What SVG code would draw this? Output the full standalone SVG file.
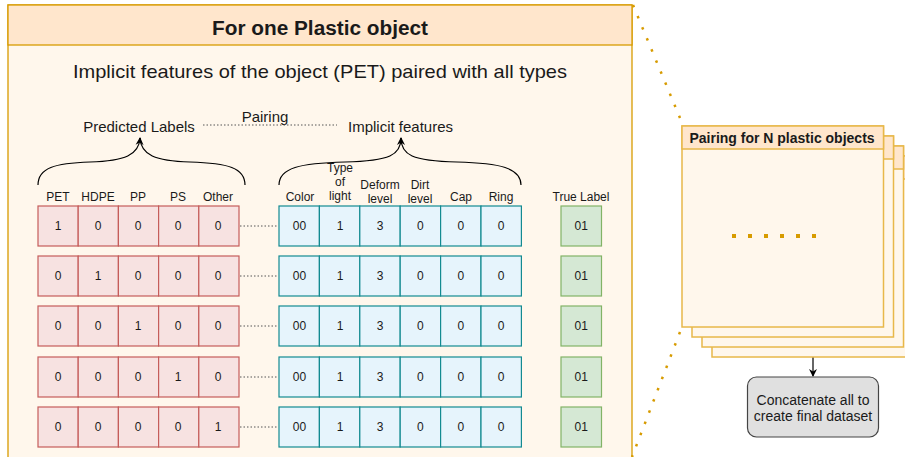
<svg xmlns="http://www.w3.org/2000/svg" width="905" height="457" viewBox="0 0 905 457">
<defs>
<marker id="arr" markerWidth="10" markerHeight="10" refX="8" refY="5" orient="auto" markerUnits="userSpaceOnUse">
<path d="M1,1 L9,5 L1,9 L3.5,5 Z" fill="#000"/>
</marker>
</defs>
<style>
text{font-family:"Liberation Sans",Arial,sans-serif;fill:#1a1a1a}
.c{text-anchor:middle}
.red{fill:#f7e2e1;stroke:#c55d5a;stroke-width:1.2}
.blue{fill:#e6f4fc;stroke:#138a91;stroke-width:1.2}
.green{fill:#d5e8d4;stroke:#82b366;stroke-width:1.2}
.cell{font-size:12px;text-anchor:middle}
.lab{font-size:12px;text-anchor:middle}
.dot{stroke:#555;stroke-width:1;stroke-dasharray:1.5 2;fill:none}
.odot{stroke:#d79b00;stroke-width:2.5;stroke-dasharray:2.5 9.5;fill:none}
.brace{fill:none;stroke:#000;stroke-width:1.2}
.stk{fill:#fff7ec;stroke:#e8b84a;stroke-width:1.5}
.stkh{fill:#ffe6cc;stroke:#e8b84a;stroke-width:1.5}
</style>

<g id="main-panel">
<rect x="8" y="5" width="624" height="460" fill="#fff7ec" stroke="#d79b00" stroke-width="1.3"/>
<rect x="8" y="5" width="624" height="40" fill="#ffe6cc" stroke="#d79b00" stroke-width="1.3"/>
<text x="320" y="35" class="c" font-size="20" font-weight="bold" textLength="216" lengthAdjust="spacingAndGlyphs">For one Plastic object</text>
<text x="320" y="78" class="c" font-size="19" textLength="494" lengthAdjust="spacingAndGlyphs">Implicit features of the object (PET) paired with all types</text>
</g>

<g id="headers">
<text x="139" y="132" class="c" font-size="15">Predicted Labels</text>
<text x="400.5" y="132" class="c" font-size="15">Implicit features</text>
<text x="265" y="122" class="c" font-size="15">Pairing</text>
<text x="58" y="201" class="lab">PET</text>
<text x="98" y="201" class="lab">HDPE</text>
<text x="138" y="201" class="lab">PP</text>
<text x="178" y="201" class="lab">PS</text>
<text x="218" y="201" class="lab">Other</text>
<text x="300" y="201" class="lab">Color</text>
<text x="340" y="172" class="lab">Type</text>
<text x="340" y="186" class="lab">of</text>
<text x="340" y="200" class="lab">light</text>
<text x="380" y="189" class="lab">Deform</text>
<text x="380" y="203" class="lab">level</text>
<text x="420" y="189" class="lab">Dirt</text>
<text x="420" y="203" class="lab">level</text>
<text x="461" y="201" class="lab">Cap</text>
<text x="501" y="201" class="lab">Ring</text>
<text x="581" y="201" class="lab">True Label</text>
</g>

<g id="connectors">
<path class="dot" d="M203,125 L337,125"/>
<path class="brace" d="M38,185 C38,168 55,163 90,162 C125,161 139,155 140,138" marker-end="url(#arr)"/>
<path class="brace" d="M245,185 C245,168 228,163 190,162 C155,161 141,155 140,138"/>
<path class="brace" d="M279,185 C279,168 300,163 345,162 C390,161 401,155 401,138" marker-end="url(#arr)"/>
<path class="brace" d="M521,185 C521,168 500,163 457,162 C412,161 401,155 401,138"/>
<path class="dot" d="M240,226 L278,226"/>
<path class="dot" d="M240,276 L278,276"/>
<path class="dot" d="M240,326 L278,326"/>
<path class="dot" d="M240,377 L278,377"/>
<path class="dot" d="M240,427 L278,427"/>
<path class="odot" d="M633,5 L680,118"/>
<path class="odot" d="M680,332 L632,457"/>
<path d="M813,357 L813,376" stroke="#000" stroke-width="1.2" fill="none" marker-end="url(#arr)"/>
</g>

<g id="row1">
<rect class="red" x="38" y="206" width="40.2" height="40"/><rect class="red" x="78.2" y="206" width="40.2" height="40"/><rect class="red" x="118.4" y="206" width="40.2" height="40"/><rect class="red" x="158.6" y="206" width="40.2" height="40"/><rect class="red" x="198.8" y="206" width="40.2" height="40"/>
<text class="cell" x="58" y="230">1</text><text class="cell" x="98" y="230">0</text><text class="cell" x="138" y="230">0</text><text class="cell" x="178" y="230">0</text><text class="cell" x="218" y="230">0</text>
<rect class="blue" x="279" y="206" width="40.4" height="40"/><rect class="blue" x="319.4" y="206" width="40.4" height="40"/><rect class="blue" x="359.8" y="206" width="40.4" height="40"/><rect class="blue" x="400.2" y="206" width="40.4" height="40"/><rect class="blue" x="440.6" y="206" width="40.4" height="40"/><rect class="blue" x="481" y="206" width="40.4" height="40"/>
<text class="cell" x="299.5" y="230">00</text><text class="cell" x="340" y="230">1</text><text class="cell" x="380" y="230">3</text><text class="cell" x="420.4" y="230">0</text><text class="cell" x="460.8" y="230">0</text><text class="cell" x="501.2" y="230">0</text>
<rect class="green" x="561" y="206" width="40.5" height="40"/><text class="cell" x="581.3" y="230">01</text>
</g>

<g id="row2">
<rect class="red" x="38" y="256" width="40.2" height="40"/><rect class="red" x="78.2" y="256" width="40.2" height="40"/><rect class="red" x="118.4" y="256" width="40.2" height="40"/><rect class="red" x="158.6" y="256" width="40.2" height="40"/><rect class="red" x="198.8" y="256" width="40.2" height="40"/>
<text class="cell" x="58" y="280">0</text><text class="cell" x="98" y="280">1</text><text class="cell" x="138" y="280">0</text><text class="cell" x="178" y="280">0</text><text class="cell" x="218" y="280">0</text>
<rect class="blue" x="279" y="256" width="40.4" height="40"/><rect class="blue" x="319.4" y="256" width="40.4" height="40"/><rect class="blue" x="359.8" y="256" width="40.4" height="40"/><rect class="blue" x="400.2" y="256" width="40.4" height="40"/><rect class="blue" x="440.6" y="256" width="40.4" height="40"/><rect class="blue" x="481" y="256" width="40.4" height="40"/>
<text class="cell" x="299.5" y="280">00</text><text class="cell" x="340" y="280">1</text><text class="cell" x="380" y="280">3</text><text class="cell" x="420.4" y="280">0</text><text class="cell" x="460.8" y="280">0</text><text class="cell" x="501.2" y="280">0</text>
<rect class="green" x="561" y="256" width="40.5" height="40"/><text class="cell" x="581.3" y="280">01</text>
</g>

<g id="row3">
<rect class="red" x="38" y="306" width="40.2" height="40"/><rect class="red" x="78.2" y="306" width="40.2" height="40"/><rect class="red" x="118.4" y="306" width="40.2" height="40"/><rect class="red" x="158.6" y="306" width="40.2" height="40"/><rect class="red" x="198.8" y="306" width="40.2" height="40"/>
<text class="cell" x="58" y="330">0</text><text class="cell" x="98" y="330">0</text><text class="cell" x="138" y="330">1</text><text class="cell" x="178" y="330">0</text><text class="cell" x="218" y="330">0</text>
<rect class="blue" x="279" y="306" width="40.4" height="40"/><rect class="blue" x="319.4" y="306" width="40.4" height="40"/><rect class="blue" x="359.8" y="306" width="40.4" height="40"/><rect class="blue" x="400.2" y="306" width="40.4" height="40"/><rect class="blue" x="440.6" y="306" width="40.4" height="40"/><rect class="blue" x="481" y="306" width="40.4" height="40"/>
<text class="cell" x="299.5" y="330">00</text><text class="cell" x="340" y="330">1</text><text class="cell" x="380" y="330">3</text><text class="cell" x="420.4" y="330">0</text><text class="cell" x="460.8" y="330">0</text><text class="cell" x="501.2" y="330">0</text>
<rect class="green" x="561" y="306" width="40.5" height="40"/><text class="cell" x="581.3" y="330">01</text>
</g>

<g id="row4">
<rect class="red" x="38" y="357" width="40.2" height="40"/><rect class="red" x="78.2" y="357" width="40.2" height="40"/><rect class="red" x="118.4" y="357" width="40.2" height="40"/><rect class="red" x="158.6" y="357" width="40.2" height="40"/><rect class="red" x="198.8" y="357" width="40.2" height="40"/>
<text class="cell" x="58" y="381">0</text><text class="cell" x="98" y="381">0</text><text class="cell" x="138" y="381">0</text><text class="cell" x="178" y="381">1</text><text class="cell" x="218" y="381">0</text>
<rect class="blue" x="279" y="357" width="40.4" height="40"/><rect class="blue" x="319.4" y="357" width="40.4" height="40"/><rect class="blue" x="359.8" y="357" width="40.4" height="40"/><rect class="blue" x="400.2" y="357" width="40.4" height="40"/><rect class="blue" x="440.6" y="357" width="40.4" height="40"/><rect class="blue" x="481" y="357" width="40.4" height="40"/>
<text class="cell" x="299.5" y="381">00</text><text class="cell" x="340" y="381">1</text><text class="cell" x="380" y="381">3</text><text class="cell" x="420.4" y="381">0</text><text class="cell" x="460.8" y="381">0</text><text class="cell" x="501.2" y="381">0</text>
<rect class="green" x="561" y="357" width="40.5" height="40"/><text class="cell" x="581.3" y="381">01</text>
</g>

<g id="row5">
<rect class="red" x="38" y="407" width="40.2" height="40"/><rect class="red" x="78.2" y="407" width="40.2" height="40"/><rect class="red" x="118.4" y="407" width="40.2" height="40"/><rect class="red" x="158.6" y="407" width="40.2" height="40"/><rect class="red" x="198.8" y="407" width="40.2" height="40"/>
<text class="cell" x="58" y="431">0</text><text class="cell" x="98" y="431">0</text><text class="cell" x="138" y="431">0</text><text class="cell" x="178" y="431">0</text><text class="cell" x="218" y="431">1</text>
<rect class="blue" x="279" y="407" width="40.4" height="40"/><rect class="blue" x="319.4" y="407" width="40.4" height="40"/><rect class="blue" x="359.8" y="407" width="40.4" height="40"/><rect class="blue" x="400.2" y="407" width="40.4" height="40"/><rect class="blue" x="440.6" y="407" width="40.4" height="40"/><rect class="blue" x="481" y="407" width="40.4" height="40"/>
<text class="cell" x="299.5" y="431">00</text><text class="cell" x="340" y="431">1</text><text class="cell" x="380" y="431">3</text><text class="cell" x="420.4" y="431">0</text><text class="cell" x="460.8" y="431">0</text><text class="cell" x="501.2" y="431">0</text>
<rect class="green" x="561" y="407" width="40.5" height="40"/><text class="cell" x="581.3" y="431">01</text>
</g>

<g id="stack">
<rect class="stk" x="712" y="156" width="201.5" height="201"/><rect class="stkh" x="712" y="156" width="201.5" height="23"/>
<rect class="stk" x="702" y="146" width="201.5" height="201"/><rect class="stkh" x="702" y="146" width="201.5" height="23"/>
<rect class="stk" x="692" y="136" width="201.5" height="201"/><rect class="stkh" x="692" y="136" width="201.5" height="23"/>
<rect class="stk" x="682" y="126" width="201.5" height="201"/><rect class="stkh" x="682" y="126" width="201.5" height="23"/>
<text x="782" y="143" class="c" font-size="14" font-weight="bold">Pairing for N plastic objects</text>
<path d="M732,236 L818,236" stroke="#d79b00" stroke-width="4" stroke-dasharray="4 12" fill="none"/>
</g>

<g id="concat">
<rect x="747.5" y="377" width="131" height="60" rx="9" fill="#e0e0e0" stroke="#444" stroke-width="1.2"/>
<text x="813" y="405" class="c" font-size="14">Concatenate all to</text>
<text x="813" y="421" class="c" font-size="14">create final dataset</text>
</g>
</svg>
